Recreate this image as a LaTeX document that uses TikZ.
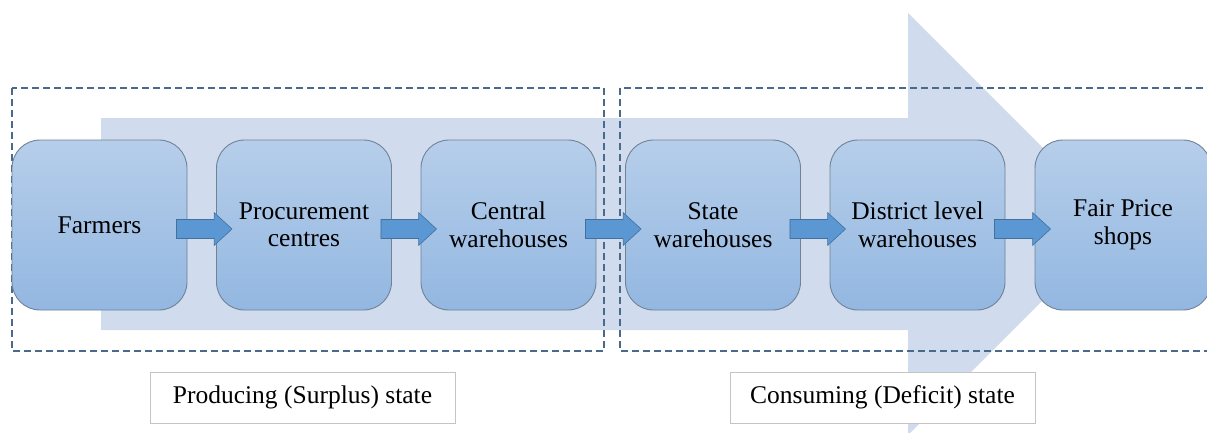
\documentclass[tikz,border=0pt]{standalone}
\usepackage{fontspec}
\setmainfont{Liberation Serif}
\usetikzlibrary{calc}
\definecolor{bigarrow}{HTML}{D0DCEE}
\definecolor{boxtop}{HTML}{B6CEEA}
\definecolor{boxbot}{HTML}{93B7E1}
\definecolor{boxline}{HTML}{6F8296}
\definecolor{arrfill}{HTML}{5B97D2}
\definecolor{arrline}{HTML}{41719C}
\definecolor{dashc}{HTML}{4A6A8C}
\definecolor{lblline}{HTML}{C4C4C4}
\tikzset{
  stagebox/.style={draw=boxline, line width=0.9pt, rounded corners=28pt,
    top color=boxtop, bottom color=boxbot, minimum width=175pt, minimum height=170pt,
    align=center, inner sep=0pt, font=\rmfamily\fontsize{25.5}{27.5}\selectfont, text=black},
  blockarrow/.style={draw=arrline, fill=arrfill, line width=0.6pt,
    to path={let \p1=(\tikztostart), \p2=(\tikztotarget) in
      (\x1,\y1+9.5pt) -- (\x2-18pt,\y1+9.5pt) -- (\x2-18pt,\y1+16.5pt) -- (\x2,\y1)
      -- (\x2-18pt,\y1-16.5pt) -- (\x2-18pt,\y1-9.5pt) -- (\x1,\y1-9.5pt) -- cycle}},
  groupbox/.style={draw=dashc, dashed, dash pattern=on 7pt off 4pt, line width=1.4pt},
  lblbox/.style={draw=lblline, fill=white, line width=0.8pt, minimum width=305pt,
    minimum height=51pt, inner sep=0pt, font=\rmfamily\fontsize{25.5}{27.5}\selectfont}
}
\begin{document}
\begin{tikzpicture}[x=1pt,y=-1pt]
\useasboundingbox (0,0) rectangle (1207,432);
\begin{scope}
\clip (0,0) rectangle (1207,432);
% big background arrow
\fill[bigarrow] (101,118) -- (908,118) -- (908,13) -- (1119,224) -- (908,435) -- (908,330) -- (101,330) -- cycle;
% dashed group frames
\draw[groupbox] (12,88) rectangle (604,351);
\draw[groupbox] (620,88) rectangle (1215,351);
% stage boxes
\node[stagebox] (farm) at (99.5,225) {Farmers};
\node[stagebox] (proc) at (304,225) {Procurement\\centres};
\node[stagebox] (cent) at (508.5,225) {Central\\warehouses};
\node[stagebox] (stat) at (713,225) {State\\warehouses};
\node[stagebox] (dist) at (917.5,225) {District level\\warehouses};
\node[stagebox, minimum width=176pt] (fair) at (1123,225) {Fair Price\\shops};
% connectors
\foreach \a/\b in {farm/proc, proc/cent, cent/stat, stat/dist, dist/fair}{
  \draw[blockarrow] ([xshift=-11pt,yshift=-4pt]\a.east) to ([xshift=16pt,yshift=-4pt]\b.west);
}
% labels
\node[lblbox] (lprod) at (302.5,397.5) {Producing (Surplus) state};
\node[lblbox] (lcons) at (882.5,397.5) {Consuming (Deficit) state};
\end{scope}
\end{tikzpicture}
\end{document}
